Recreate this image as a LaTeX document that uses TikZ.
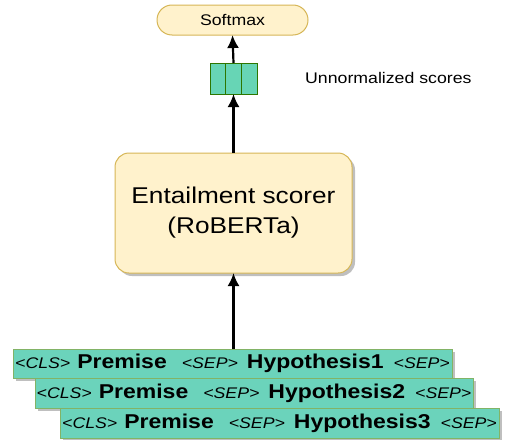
\documentclass[tikz,border=0pt]{standalone}
\usepackage{fontspec}
\setmainfont{Liberation Sans}[FakeStretch=1.15]
\usetikzlibrary{arrows.meta,shadows}
\definecolor{ylwfill}{HTML}{FFF2CC}
\definecolor{ylwline}{HTML}{D6B656}
\definecolor{vecfill}{HTML}{67D5B5}
\definecolor{vecline}{HTML}{2D7600}
\definecolor{stkfill}{HTML}{6BD3BB}
\definecolor{stkline}{HTML}{82B366}
\newcommand{\itsz}{\fontsize{15.4}{18}\selectfont\itshape}
\newcommand{\bfsz}{\fontsize{20}{24}\selectfont\bfseries}
\newcommand{\seqline}[1]{{\itsz <CLS>}\hspace{7pt}{\bfsz Premise}\hspace{15pt}{\itsz <SEP>}\hspace{9pt}{\bfsz Hypothesis#1}\hspace{10pt}{\itsz <SEP>}}
\begin{document}
\begin{tikzpicture}[x=1pt,y=-1pt,
  shad/.style={drop shadow={shadow xshift=3pt,shadow yshift=-3pt,opacity=0.25,fill=black}},
  ybox/.style={draw=ylwline,fill=ylwfill,line width=1pt,inner sep=0pt,outer sep=0pt},
  stk/.style={draw=stkline,fill=stkfill,line width=1pt,inner sep=0pt,outer sep=0pt,shad},
  arr/.style={line width=2.2pt,-{Latex[length=13pt,width=12pt]}}]
\useasboundingbox (0,0) rectangle (505,439);
\node[ybox,rounded corners=15pt,minimum width=151pt,minimum height=30pt,font=\fontsize{15.4}{18}\selectfont] (soft) at (232.5,20) {Softmax};
\node[draw=vecline,fill=vecfill,line width=1pt,inner sep=0pt,outer sep=0pt,minimum width=47pt,minimum height=31pt] (vec) at (233.5,78.5) {};
\draw[vecline,line width=1pt] ([xshift=-7.8pt]vec.north) -- ([xshift=-7.8pt]vec.south)
  ([xshift=7.8pt]vec.north) -- ([xshift=7.8pt]vec.south);
\node[anchor=west,inner sep=0pt,font=\fontsize{15.4}{18}\selectfont] (lbl) at (305,78) {Unnormalized scores};
\node[ybox,shad,rounded corners=14pt,minimum width=237pt,minimum height=120pt,align=center,font=\fontsize{22.8}{30}\selectfont] (ent) at (233.5,213) {Entailment scorer\\(RoBERTa)};
\node[stk,minimum width=439pt,minimum height=29pt] (s1) at (232.5,363.5) {\seqline{1}};
\node[stk,minimum width=438pt,minimum height=30pt] (s2) at (254,393) {\seqline{2}};
\node[stk,minimum width=439pt,minimum height=30pt] (s3) at (279.5,423) {\seqline{3}};
\draw[arr] (vec.north) -- (soft.south);
\draw[arr] (ent.north) -- (vec.south);
\draw[arr] (ent.south |- s1.north) -- (ent.south);
\end{tikzpicture}
\end{document}
